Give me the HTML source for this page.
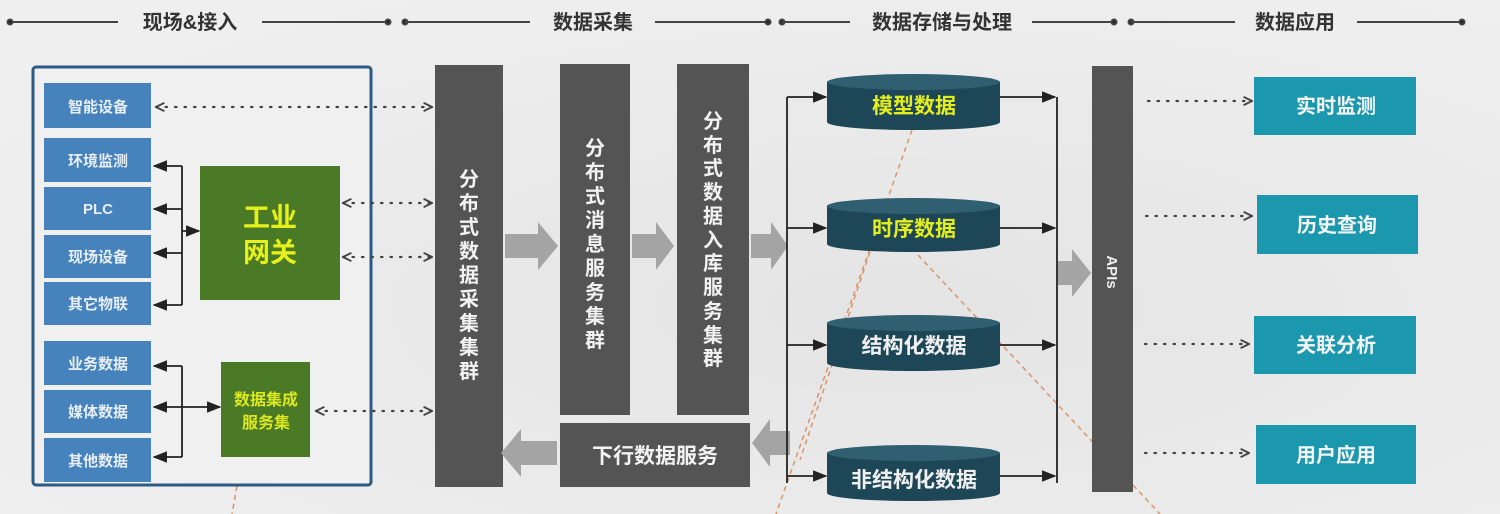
<!DOCTYPE html>
<html><head><meta charset="utf-8"><style>
html,body{margin:0;padding:0;background:#ececec}
svg{display:block}
text{font-family:"Liberation Sans","Noto Sans CJK SC",sans-serif;font-weight:bold}
</style></head><body>
<svg width="1500" height="514" viewBox="0 0 1500 514" xmlns="http://www.w3.org/2000/svg">
<defs>
<radialGradient id="bg" cx="0.6" cy="0.6" r="0.7"><stop offset="0" stop-color="#e4e4e4"/><stop offset="1" stop-color="#efefef"/></radialGradient>
<marker id="ah" viewBox="0 0 10 10" refX="9" refY="5" markerWidth="8" markerHeight="8" orient="auto-start-reverse"><path d="M0,1 L10,5 L0,9 z" fill="#222"/></marker>
<marker id="ch" viewBox="0 0 10 10" refX="9" refY="5" markerUnits="userSpaceOnUse" markerWidth="12" markerHeight="12" orient="auto-start-reverse"><path d="M2,1.5 L9,5 L2,8.5" fill="none" stroke="#444" stroke-width="1.6"/></marker>
</defs>
<rect width="1500" height="514" fill="url(#bg)"/>

<g stroke="#444" stroke-width="2" fill="#222">
<line x1="10" y1="22" x2="118" y2="22"/><circle cx="10" cy="22" r="2.5"/>
<line x1="262" y1="22" x2="388" y2="22"/><circle cx="388" cy="22" r="2.5"/>
<circle cx="405" cy="22" r="2.5"/><line x1="405" y1="22" x2="530" y2="22"/>
<line x1="655" y1="22" x2="768" y2="22"/><circle cx="768" cy="22" r="2.5"/>
<circle cx="782" cy="22" r="2.5"/><line x1="782" y1="22" x2="850" y2="22"/>
<line x1="1032" y1="22" x2="1114" y2="22"/><circle cx="1114" cy="22" r="2.5"/>
<circle cx="1131" cy="22" r="2.5"/><line x1="1131" y1="22" x2="1235" y2="22"/>
<line x1="1357" y1="22" x2="1462" y2="22"/><circle cx="1462" cy="22" r="2.5"/>
</g>
<g font-size="20" fill="#333" text-anchor="middle">
<text x="190" y="29">现场&amp;接入</text>
<text x="593" y="29">数据采集</text>
<text x="942" y="29">数据存储与处理</text>
<text x="1295" y="29">数据应用</text>
</g>

<g stroke="#d9956a" stroke-width="1.5" stroke-dasharray="5,4" fill="none">
<line x1="270" y1="300" x2="232" y2="514"/>
<line x1="912" y1="130" x2="776" y2="514"/>
<line x1="870" y1="252" x2="800" y2="460"/>
<line x1="918" y1="255" x2="1160" y2="514"/>
</g>

<rect x="33" y="67" width="338" height="418" fill="#f0f0f0" stroke="#2b5a86" stroke-width="3" rx="3"/>
<g fill="#4683bd">
<rect x="44" y="83" width="107" height="45"/>
<rect x="44" y="138" width="107" height="44"/>
<rect x="44" y="187" width="107" height="43"/>
<rect x="44" y="235" width="107" height="43"/>
<rect x="44" y="282" width="107" height="43"/>
<rect x="44" y="341" width="107" height="44"/>
<rect x="44" y="390" width="107" height="43"/>
<rect x="44" y="438" width="107" height="44"/>
</g>
<g font-size="15" fill="#e8eef5" text-anchor="middle">
<text x="98" y="112">智能设备</text>
<text x="98" y="166">环境监测</text>
<text x="98" y="214">PLC</text>
<text x="98" y="262">现场设备</text>
<text x="98" y="309">其它物联</text>
<text x="98" y="369">业务数据</text>
<text x="98" y="417">媒体数据</text>
<text x="98" y="466">其他数据</text>
</g>
<rect x="200" y="166" width="140" height="134" fill="#4a7a26"/>
<text x="270" y="227" font-size="27" fill="#e6f01a" text-anchor="middle">工业</text>
<text x="270" y="262" font-size="27" fill="#e6f01a" text-anchor="middle">网关</text>
<rect x="221" y="362" width="89" height="95" fill="#4a7a26"/>
<text x="266" y="405" font-size="16" fill="#dce820" text-anchor="middle">数据集成</text>
<text x="266" y="428" font-size="16" fill="#dce820" text-anchor="middle">服务集</text>

<g stroke="#222" stroke-width="1.8" fill="none">
<polyline points="182,166 182,305"/>
<line x1="182" y1="166" x2="154" y2="166" marker-end="url(#ah)"/>
<line x1="182" y1="209" x2="154" y2="209" marker-end="url(#ah)"/>
<line x1="182" y1="253" x2="154" y2="253" marker-end="url(#ah)"/>
<line x1="182" y1="305" x2="154" y2="305" marker-end="url(#ah)"/>
<line x1="182" y1="231" x2="199" y2="231" marker-end="url(#ah)"/>
<polyline points="182,366 182,457"/>
<line x1="182" y1="366" x2="154" y2="366" marker-end="url(#ah)"/>
<line x1="182" y1="407" x2="154" y2="407" marker-end="url(#ah)"/>
<line x1="182" y1="457" x2="154" y2="457" marker-end="url(#ah)"/>
<line x1="182" y1="407" x2="220" y2="407" marker-end="url(#ah)"/>
</g>
<g stroke="#444" stroke-width="2.2" stroke-dasharray="1.5,8" stroke-linecap="round" fill="none">
<line x1="156" y1="107" x2="432" y2="107" marker-start="url(#ch)" marker-end="url(#ch)"/>
<line x1="343" y1="203" x2="432" y2="203" marker-start="url(#ch)" marker-end="url(#ch)"/>
<line x1="343" y1="257" x2="432" y2="257" marker-start="url(#ch)" marker-end="url(#ch)"/>
<line x1="316" y1="411" x2="432" y2="411" marker-start="url(#ch)" marker-end="url(#ch)"/>
<line x1="1148" y1="101" x2="1252" y2="101" marker-end="url(#ch)"/>
<line x1="1146" y1="216" x2="1252" y2="216" marker-end="url(#ch)"/>
<line x1="1145" y1="344" x2="1249" y2="344" marker-end="url(#ch)"/>
<line x1="1145" y1="453" x2="1249" y2="453" marker-end="url(#ch)"/>
</g>

<g fill="#545454">
<rect x="435" y="65" width="68" height="422"/>
<rect x="560" y="64" width="70" height="351"/>
<rect x="677" y="64" width="72" height="351"/>
<rect x="560" y="423" width="190" height="64"/>
<rect x="1092" y="66" width="41" height="426"/>
</g>
<g font-size="20" fill="#f2f2f2" text-anchor="middle">
<text x="469" y="186">分</text><text x="469" y="210">布</text><text x="469" y="234">式</text><text x="469" y="258">数</text><text x="469" y="282">据</text><text x="469" y="306">采</text><text x="469" y="330">集</text><text x="469" y="354">集</text><text x="469" y="378">群</text>
<text x="595" y="155">分</text><text x="595" y="179">布</text><text x="595" y="203">式</text><text x="595" y="227">消</text><text x="595" y="251">息</text><text x="595" y="275">服</text><text x="595" y="299">务</text><text x="595" y="323">集</text><text x="595" y="347">群</text>
<text x="713" y="128">分</text><text x="713" y="152">布</text><text x="713" y="175">式</text><text x="713" y="199">数</text><text x="713" y="223">据</text><text x="713" y="247">入</text><text x="713" y="270">库</text><text x="713" y="294">服</text><text x="713" y="318">务</text><text x="713" y="342">集</text><text x="713" y="365">群</text>
</g>
<text x="655" y="463" font-size="21" fill="#f2f2f2" text-anchor="middle">下行数据服务</text>
<text x="1112" y="272" font-size="15" fill="#eee" text-anchor="middle" transform="rotate(90 1112 272)" dy="5">APIs</text>

<g fill="#a4a4a4">
<path d="M505,234 h33 v-12 l20,24 l-20,24 v-12 h-33z"/>
<path d="M632,234 h24 v-12 l18,24 l-18,24 v-12 h-24z"/>
<path d="M751,234 h20 v-12 l17,24 l-17,24 v-12 h-20z"/>
<path d="M557,441 h-36 v-12 l-20,24 l20,24 v-12 h36z"/>
<path d="M790,431 h-20 v-12 l-18,24 l18,24 v-12 h20z"/>
<path d="M1058,261 h14 v-12 l19,24 l-19,24 v-12 h-14z"/>
</g>

<g stroke="#222" stroke-width="1.8" fill="none">
<line x1="787" y1="97" x2="787" y2="483"/>
<line x1="787" y1="97" x2="826" y2="97" marker-end="url(#ah)"/>
<line x1="787" y1="228" x2="826" y2="228" marker-end="url(#ah)"/>
<line x1="787" y1="345" x2="826" y2="345" marker-end="url(#ah)"/>
<line x1="787" y1="476" x2="826" y2="476" marker-end="url(#ah)"/>
<line x1="1057" y1="97" x2="1057" y2="483"/>
<line x1="1000" y1="97" x2="1055" y2="97" marker-end="url(#ah)"/>
<line x1="1000" y1="228" x2="1055" y2="228" marker-end="url(#ah)"/>
<line x1="1000" y1="345" x2="1055" y2="345" marker-end="url(#ah)"/>
<line x1="1000" y1="476" x2="1055" y2="476" marker-end="url(#ah)"/>
</g>

<g>
<path d="M827,82 v40 a86,8 0 0 0 173,0 v-40z" fill="#1d4757"/><ellipse cx="913.5" cy="82" rx="86.5" ry="8" fill="#2f5f70"/>
<path d="M827,206 v38 a86,8 0 0 0 173,0 v-38z" fill="#1d4757"/><ellipse cx="913.5" cy="206" rx="86.5" ry="8" fill="#2f5f70"/>
<path d="M827,323 v40 a86,8 0 0 0 173,0 v-40z" fill="#1d4757"/><ellipse cx="913.5" cy="323" rx="86.5" ry="8" fill="#2f5f70"/>
<path d="M827,453 v40 a86,8 0 0 0 173,0 v-40z" fill="#1d4757"/><ellipse cx="913.5" cy="453" rx="86.5" ry="8" fill="#2f5f70"/>
</g>
<g font-size="21" text-anchor="middle">
<text x="914" y="113" fill="#e4ee1e">模型数据</text>
<text x="914" y="236" fill="#e4ee1e">时序数据</text>
<text x="914" y="353" fill="#f0f0f0">结构化数据</text>
<text x="914" y="487" fill="#f0f0f0">非结构化数据</text>
</g>

<g fill="#1b98ae">
<rect x="1254" y="77" width="162" height="58"/>
<rect x="1257" y="195" width="161" height="59"/>
<rect x="1254" y="316" width="162" height="58"/>
<rect x="1256" y="425" width="160" height="59"/>
</g>
<g font-size="20" fill="#f4f4f4" text-anchor="middle">
<text x="1336" y="113">实时监测</text>
<text x="1337" y="232">历史查询</text>
<text x="1336" y="352">关联分析</text>
<text x="1336" y="462">用户应用</text>
</g>
</svg>
</body></html>
